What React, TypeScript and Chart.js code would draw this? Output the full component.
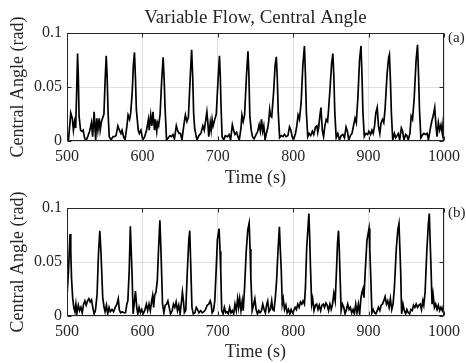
import React, { useEffect, useRef } from "react";
import { Chart, registerables } from "chart.js";

Chart.register(...registerables);

const TITLE = "Variable Flow, Central Angle";
const X_LABEL = "Time (s)";
const Y_LABEL = "Central Angle (rad)";
const PANEL_TAGS = ["(a)", "(b)"];
const X_MIN = 500;
const X_MAX = 1000;
const X_STEP = 100;
const X_TICK_VALUES = [500, 600, 700, 800, 900, 1000];
const Y_MIN = 0;
const Y_MAX = 0.1;
const Y_TICK_VALUES = [0, 0.05, 0.1];
const Y_TICK_LABELS = ["0", "0.05", "0.1"];

// Panel (a): time (s)
const timeA = [
  500, 502, 505, 507, 508.5, 510, 511.5, 512.8, 514, 515, 516, 518, 520, 521.5, 523, 525, 527.5, 530, 532.5, 534,
  536, 538, 539.5, 541, 542.7, 544, 545.7, 549, 550.5, 552, 553.2, 554.5, 556, 558.5, 561, 563, 565, 567.5, 569.5, 571.5,
  573, 575, 577, 579.5, 581, 583, 584.5, 586.5, 588, 589.5, 590.7, 592, 594.5, 596, 598, 600.5, 603, 605.5, 608, 609,
  611, 612.5, 614, 616, 617, 619, 620, 621.5, 623.5, 625.5, 627.5, 628.8, 630, 632, 634.5, 636.5, 638.5, 640.5, 642.5, 645,
  646.5, 648.5, 650.5, 652.5, 655, 657, 659, 661, 663.5, 665.3, 666.7, 668, 669.3, 670.6, 672.3, 675, 677.6, 680.2, 682, 683.7,
  685.5, 686.8, 688, 690, 691.2, 692.5, 693.8, 696, 698, 700.2, 702.2, 703.3, 704.3, 705.7, 707.8, 710, 712.7, 714.9, 717, 719.3,
  721, 722.8, 725, 726.7, 728.5, 730.7, 732, 733.7, 735.5, 738, 740, 741.2, 742.5, 744.3, 746, 748.2, 750.8, 753, 754.8, 756.5,
  757.9, 759.6, 761, 762.7, 764.4, 766.2, 767.5, 768.8, 770, 771.5, 774, 776, 777.6, 778.9, 780.2, 782, 784.2, 786.4, 788.5, 790.7,
  793, 795.1, 796.9, 798.6, 800.4, 803, 804.8, 806.5, 808.3, 810.5, 812.8, 814.9, 816.2, 817.5, 819.3, 821, 823.2, 825.4, 827.2, 829.6,
  831.5, 832.6, 833.7, 835.5, 836.8, 838.6, 840.3, 842, 843.8, 845.6, 846.9, 849, 851, 852.6, 853.9, 855.2, 857, 859.2, 861.4, 863.6,
  865.8, 868, 870.1, 871.9, 873.7, 875.8, 878, 880.2, 882, 883.7, 885.8, 888, 889.9, 891.2, 892.5, 894.3, 896.5, 898.7, 900.4, 902.6,
  904.4, 906.1, 907.9, 909.6, 911.4, 913.1, 914.9, 916.6, 918.4, 920.1, 921.9, 924.5, 926.5, 927.6, 929, 930.2, 932, 934.2, 935.9, 937.7,
  939.4, 941.2, 943.4, 945.1, 946.9, 949.1, 950.8, 952.6, 954.8, 956.5, 958.3, 960.5, 963, 964.9, 966.2, 967.5, 969.3, 971, 973.2, 975.4,
  977.6, 979.4, 981.5, 983.7, 985.9, 987.7, 989.4, 990.8, 992.5, 994.3, 996, 997.8, 999.5, 1000,
];
// Panel (a): central angle (rad)
const angleA = [
  0.003, 0.001, 0.026, 0.021, 0.010, 0.018, 0.012, 0.045, 0.081, 0.060, 0.023, 0.010, 0.009, 0.010, 0.004, 0.000, 0.004, 0.009, 0.017, 0.004,
  0.027, 0.001, 0.021, 0.010, 0.021, 0.010, 0.018, 0.025, 0.055, 0.079, 0.060, 0.026, 0.004, 0.001, 0.004, 0.004, 0.005, 0.014, 0.010, 0.007,
  0.010, 0.004, 0.001, 0.014, 0.024, 0.020, 0.026, 0.045, 0.070, 0.082, 0.060, 0.029, 0.010, 0.007, 0.010, 0.001, 0.004, 0.010, 0.020, 0.010,
  0.024, 0.014, 0.027, 0.010, 0.020, 0.009, 0.017, 0.014, 0.025, 0.055, 0.0775, 0.058, 0.032, 0.001, 0.003, 0.005, 0.004, 0.006, 0.002, 0.014,
  0.010, 0.007, 0.007, 0.001, 0.015, 0.024, 0.018, 0.022, 0.060, 0.0845, 0.060, 0.025, 0.012, 0.007, 0.001, 0.005, 0.007, 0.014, 0.010, 0.018,
  0.027, 0.017, 0.004, 0.017, 0.010, 0.020, 0.014, 0.020, 0.025, 0.055, 0.079, 0.060, 0.032, 0.004, 0.001, 0.005, 0.004, 0.006, 0.001, 0.015,
  0.010, 0.006, 0.008, 0.004, 0.001, 0.012, 0.024, 0.018, 0.024, 0.060, 0.083, 0.062, 0.023, 0.010, 0.004, 0.002, 0.006, 0.009, 0.015, 0.009,
  0.020, 0.009, 0.014, 0.001, 0.007, 0.012, 0.018, 0.029, 0.023, 0.022, 0.045, 0.070, 0.078, 0.058, 0.026, 0.003, 0.005, 0.004, 0.006, 0.004,
  0.005, 0.013, 0.010, 0.004, 0.001, 0.007, 0.014, 0.024, 0.020, 0.035, 0.070, 0.088, 0.062, 0.026, 0.004, 0.007, 0.005, 0.009, 0.006, 0.013,
  0.014, 0.008, 0.012, 0.024, 0.031, 0.010, 0.004, 0.014, 0.020, 0.018, 0.029, 0.050, 0.072, 0.081, 0.060, 0.026, 0.003, 0.007, 0.001, 0.005,
  0.006, 0.003, 0.013, 0.009, 0.001, 0.005, 0.007, 0.015, 0.021, 0.017, 0.040, 0.075, 0.088, 0.062, 0.026, 0.004, 0.007, 0.006, 0.009, 0.006,
  0.010, 0.007, 0.014, 0.026, 0.031, 0.014, 0.007, 0.017, 0.020, 0.017, 0.030, 0.062, 0.077, 0.080, 0.055, 0.026, 0.001, 0.007, 0.003, 0.005,
  0.007, 0.001, 0.012, 0.009, 0.001, 0.006, 0.005, 0.001, 0.007, 0.023, 0.020, 0.040, 0.075, 0.089, 0.062, 0.029, 0.003, 0.005, 0.007, 0.006,
  0.007, 0.001, 0.010, 0.018, 0.024, 0.031, 0.014, 0.004, 0.017, 0.010, 0.015, 0.007, 0.023, 0.024,
];

// Panel (b): time (s)
const timeB = [
  500, 502, 504, 505, 506, 507.5, 509, 510.5, 511.8, 513, 515, 516.7, 518.4, 520.2, 522, 523.7, 525.4, 527.2, 529, 530.7,
  532.5, 534.2, 536, 537.7, 539.9, 541.7, 543.5, 545, 546.1, 547.4, 549.2, 550.5, 552.3, 554, 555.8, 557.5, 559.7, 561.8, 564, 566.2,
  568, 569.3, 571.1, 573.2, 575.4, 577.6, 579.4, 580.7, 582.5, 584, 585.2, 586.4, 587.7, 589.5, 590.8, 592.5, 593.9, 595.6, 597.4, 599.1,
  600.9, 603, 605.3, 607, 608.8, 610.5, 612.3, 613.6, 614.9, 616.2, 618, 619.8, 621.3, 623.2, 624.4, 625.4, 626.7, 628.5, 630.2, 632,
  633.8, 635.5, 637.3, 639.5, 641.2, 643, 644.7, 646.5, 648.2, 650, 651.8, 653.1, 654.4, 655.7, 657.5, 659.5, 661.5, 662.8, 664, 665.7,
  667.5, 669.7, 671.5, 673.2, 675, 677.2, 679.3, 681.5, 683.7, 685.9, 688.1, 689.9, 691.2, 692.5, 694.3, 696, 697.8, 699.5, 701.7, 703,
  703.9, 705.2, 707, 708.7, 710.5, 712.2, 714, 715.7, 717.5, 719.3, 721, 722.8, 724.5, 726.3, 727.6, 729, 730.7, 732.4, 733.7, 735.5,
  737.7, 739.8, 741.6, 742.8, 743.8, 745.6, 747.3, 749.1, 750.8, 752.6, 754.3, 756.1, 757.9, 759.6, 761.4, 763.1, 764.9, 766.2, 767.9, 769.7,
  771.5, 772.8, 774.5, 776.3, 778, 779.8, 781.7, 783, 784.2, 785.5, 786.8, 788.5, 790.3, 792, 793.8, 795.6, 797.3, 799.1, 800.8, 802.6,
  804.3, 806.1, 807.9, 809.6, 811.4, 813.1, 814.9, 816.2, 817.9, 820.8, 822, 822.8, 824.5, 825.8, 827.6, 829.4, 831.1, 832.9, 834.6, 836.4,
  838.1, 839.9, 841.6, 843.4, 845.1, 846.9, 848.7, 850.4, 852.2, 853.9, 855.7, 857.4, 858.8, 860.1, 861.2, 862.2, 863.6, 865.3, 867.1, 868.8,
  870.6, 872.3, 874.1, 875.8, 877.6, 879.4, 881.1, 882.9, 884.6, 886.4, 888.1, 889.9, 891.2, 892.5, 893.8, 895.6, 897.8, 900.6, 901.6, 902.6,
  904.4, 906.1, 907.9, 909.6, 911.4, 913.1, 914.9, 916.6, 918.4, 920.1, 921.9, 923.7, 925.4, 927.2, 928.9, 930.7, 932.4, 934.2, 936.8, 938.8,
  940.3, 941.5, 942.5, 943.8, 945.6, 947.3, 949.1, 950.8, 952.6, 954.4, 956.1, 957.9, 959.6, 961.4, 963.1, 964.9, 966.6, 968.4, 970.1, 971.9,
  973.2, 975, 977.2, 979.2, 980.5, 981.7, 982.9, 984.2, 985.5, 987.3, 989, 990.8, 992.5, 994.3, 996, 997.8, 999.5, 1000,
];
// Panel (b): central angle (rad)
const angleB = [
  0.018, 0.042, 0.076, 0.060, 0.035, 0.017, 0.008, 0.004, 0.011, 0.002, 0.010, 0.005, 0.008, 0.003, 0.011, 0.014, 0.010, 0.014, 0.016, 0.013,
  0.015, 0.008, 0.002, 0.005, 0.020, 0.057, 0.079, 0.060, 0.040, 0.017, 0.008, 0.004, 0.010, 0.002, 0.008, 0.004, 0.006, 0.004, 0.008, 0.011,
  0.016, 0.006, 0.003, 0.004, 0.003, 0.003, 0.011, 0.014, 0.042, 0.083, 0.060, 0.036, 0.002, 0.014, 0.023, 0.008, 0.002, 0.008, 0.003, 0.006,
  0.002, 0.005, 0.011, 0.005, 0.011, 0.005, 0.014, 0.019, 0.008, 0.019, 0.022, 0.033, 0.060, 0.0886, 0.065, 0.042, 0.011, 0.003, 0.010, 0.011,
  0.014, 0.008, 0.002, 0.005, 0.011, 0.008, 0.013, 0.005, 0.010, 0.002, 0.013, 0.022, 0.014, 0.003, 0.005, 0.040, 0.070, 0.079, 0.050, 0.008,
  0.002, 0.003, 0.008, 0.006, 0.003, 0.005, 0.003, 0.004, 0.006, 0.010, 0.011, 0.014, 0.011, 0.003, 0.005, 0.014, 0.042, 0.071, 0.081, 0.060,
  0.042, 0.005, 0.002, 0.008, 0.003, 0.004, 0.002, 0.008, 0.003, 0.005, 0.002, 0.011, 0.005, 0.016, 0.008, 0.016, 0.005, 0.014, 0.005, 0.026,
  0.060, 0.080, 0.086, 0.062, 0.036, 0.005, 0.010, 0.016, 0.006, 0.002, 0.005, 0.003, 0.005, 0.011, 0.006, 0.003, 0.011, 0.014, 0.004, 0.006,
  0.014, 0.006, 0.005, 0.017, 0.033, 0.060, 0.0825, 0.060, 0.042, 0.011, 0.016, 0.006, 0.010, 0.003, 0.006, 0.002, 0.006, 0.003, 0.005, 0.008,
  0.006, 0.011, 0.008, 0.013, 0.011, 0.014, 0.011, 0.026, 0.063, 0.0948, 0.070, 0.048, 0.011, 0.016, 0.005, 0.010, 0.011, 0.006, 0.010, 0.005,
  0.010, 0.011, 0.008, 0.012, 0.010, 0.005, 0.011, 0.006, 0.011, 0.021, 0.014, 0.042, 0.068, 0.079, 0.060, 0.036, 0.005, 0.011, 0.008, 0.002,
  0.006, 0.011, 0.006, 0.008, 0.003, 0.006, 0.002, 0.011, 0.003, 0.011, 0.002, 0.017, 0.022, 0.025, 0.017, 0.042, 0.070, 0.081, 0.062, 0.042,
  0.003, 0.006, 0.003, 0.002, 0.005, 0.008, 0.005, 0.010, 0.011, 0.014, 0.018, 0.011, 0.014, 0.008, 0.016, 0.006, 0.011, 0.026, 0.063, 0.080,
  0.0855, 0.062, 0.042, 0.002, 0.011, 0.005, 0.002, 0.006, 0.003, 0.002, 0.006, 0.005, 0.010, 0.008, 0.011, 0.008, 0.010, 0.011, 0.006, 0.014,
  0.010, 0.023, 0.060, 0.085, 0.0948, 0.068, 0.042, 0.011, 0.020, 0.008, 0.011, 0.006, 0.010, 0.005, 0.008, 0.005, 0.010, 0.009,
];

const SERIF = '"Liberation Serif", "Times New Roman", serif';
const TEXT_COLOR = "#262626";
const GRID_COLOR = "rgba(38,38,38,0.14)";

const framePlugin = {
  id: "frame",
  afterDraw(chart: any, _args: any, opts: any) {
    const { ctx, chartArea: a, scales } = chart;
    const l = Math.round(a.left) + 0.5;
    const r = Math.round(a.right) - 0.5;
    const t = Math.round(a.top) + 0.5;
    const b = Math.round(a.bottom) - 0.5;
    ctx.save();
    ctx.strokeStyle = TEXT_COLOR;
    ctx.lineWidth = 1;
    ctx.strokeRect(l, t, r - l, b - t);
    const len = 4;
    ctx.beginPath();
    for (const v of X_TICK_VALUES) {
      const px = Math.round(scales.x.getPixelForValue(v)) + 0.5;
      ctx.moveTo(px, b);
      ctx.lineTo(px, b - len);
      ctx.moveTo(px, t);
      ctx.lineTo(px, t + len);
    }
    for (const v of Y_TICK_VALUES) {
      const py = Math.round(scales.y.getPixelForValue(v)) + 0.5;
      ctx.moveTo(l, py);
      ctx.lineTo(l + len, py);
      ctx.moveTo(r, py);
      ctx.lineTo(r - len, py);
    }
    ctx.stroke();
    ctx.fillStyle = TEXT_COLOR;
    if (opts && opts.title) {
      ctx.font = `19px ${SERIF}`;
      ctx.textAlign = "center";
      ctx.textBaseline = "middle";
      ctx.fillText(opts.title, (a.left + a.right) / 2, a.top - 15);
    }
    if (opts && opts.tag) {
      ctx.font = `15px ${SERIF}`;
      ctx.textAlign = "left";
      ctx.textBaseline = "middle";
      ctx.fillText(opts.tag, a.right + 4, a.top + 5);
    }
    ctx.restore();
  },
};

function makeConfig(times: number[], values: number[], tag: string, title: string | null, xHeight: number, xTitlePad: number) {
  return {
    type: "line" as const,
    data: {
      datasets: [
        {
          data: times.map((t, i) => ({ x: t, y: values[i] })),
          borderColor: "#000000",
          borderWidth: 1.7,
          pointRadius: 0,
          tension: 0,
          fill: false,
        },
      ],
    },
    options: {
      animation: false,
      responsive: false,
      maintainAspectRatio: false,
      layout: { padding: { top: 33, right: 19, bottom: 0, left: 0 } },
      plugins: {
        legend: { display: false },
        tooltip: { enabled: false },
        title: { display: false },
        frame: { title, tag },
      },
      scales: {
        x: {
          type: "linear",
          min: X_MIN,
          max: X_MAX,
          afterBuildTicks: (s: any) => {
            s.ticks = X_TICK_VALUES.map((v) => ({ value: v }));
          },
          ticks: {
            stepSize: X_STEP,
            autoSkip: false,
            maxRotation: 0,
            padding: 6,
            color: TEXT_COLOR,
            font: { family: SERIF, size: 16 },
            callback: (v: any) => String(v),
          },
          grid: { color: GRID_COLOR, drawTicks: false, lineWidth: 1 },
          border: { display: false },
          title: {
            display: true,
            text: X_LABEL,
            color: TEXT_COLOR,
            font: { family: SERIF, size: 18 },
            padding: { top: 0, bottom: xTitlePad },
          },
          afterFit: (s: any) => {
            s.height = xHeight;
          },
        },
        y: {
          type: "linear",
          min: Y_MIN,
          max: Y_MAX,
          afterBuildTicks: (s: any) => {
            s.ticks = Y_TICK_VALUES.map((v) => ({ value: v }));
          },
          ticks: {
            padding: 5,
            color: TEXT_COLOR,
            font: { family: SERIF, size: 16 },
            callback: (v: any) => {
              const i = Y_TICK_VALUES.findIndex((y) => Math.abs(y - v) < 1e-9);
              return i >= 0 ? Y_TICK_LABELS[i] : "";
            },
          },
          grid: { color: GRID_COLOR, drawTicks: false, lineWidth: 1 },
          border: { display: false },
          title: {
            display: true,
            text: Y_LABEL,
            color: TEXT_COLOR,
            font: { family: SERIF, size: 18 },
            padding: { top: 7, bottom: 0 },
          },
          afterFit: (s: any) => {
            s.width = 67;
          },
        },
      },
    },
    plugins: [framePlugin],
  };
}

export default function App() {
  const topRef = useRef<HTMLCanvasElement>(null);
  const botRef = useRef<HTMLCanvasElement>(null);

  useEffect(() => {
    const c1 = new Chart(topRef.current as HTMLCanvasElement, makeConfig(timeA, angleA, PANEL_TAGS[0], TITLE, 49, 1.2) as any);
    const c2 = new Chart(botRef.current as HTMLCanvasElement, makeConfig(timeB, angleB, PANEL_TAGS[1], null, 47, 0.2) as any);
    return () => {
      c1.destroy();
      c2.destroy();
    };
  }, []);

  return (
    <div style={{ position: "absolute", left: 0, top: 0, width: 466, height: 363, background: "#ffffff", overflow: "hidden" }}>
      <canvas ref={topRef} width={466} height={190} style={{ position: "absolute", left: 0, top: 0, width: 466, height: 190 }} />
      <canvas ref={botRef} width={466} height={188} style={{ position: "absolute", left: 0, top: 175, width: 466, height: 188 }} />
    </div>
  );
}
